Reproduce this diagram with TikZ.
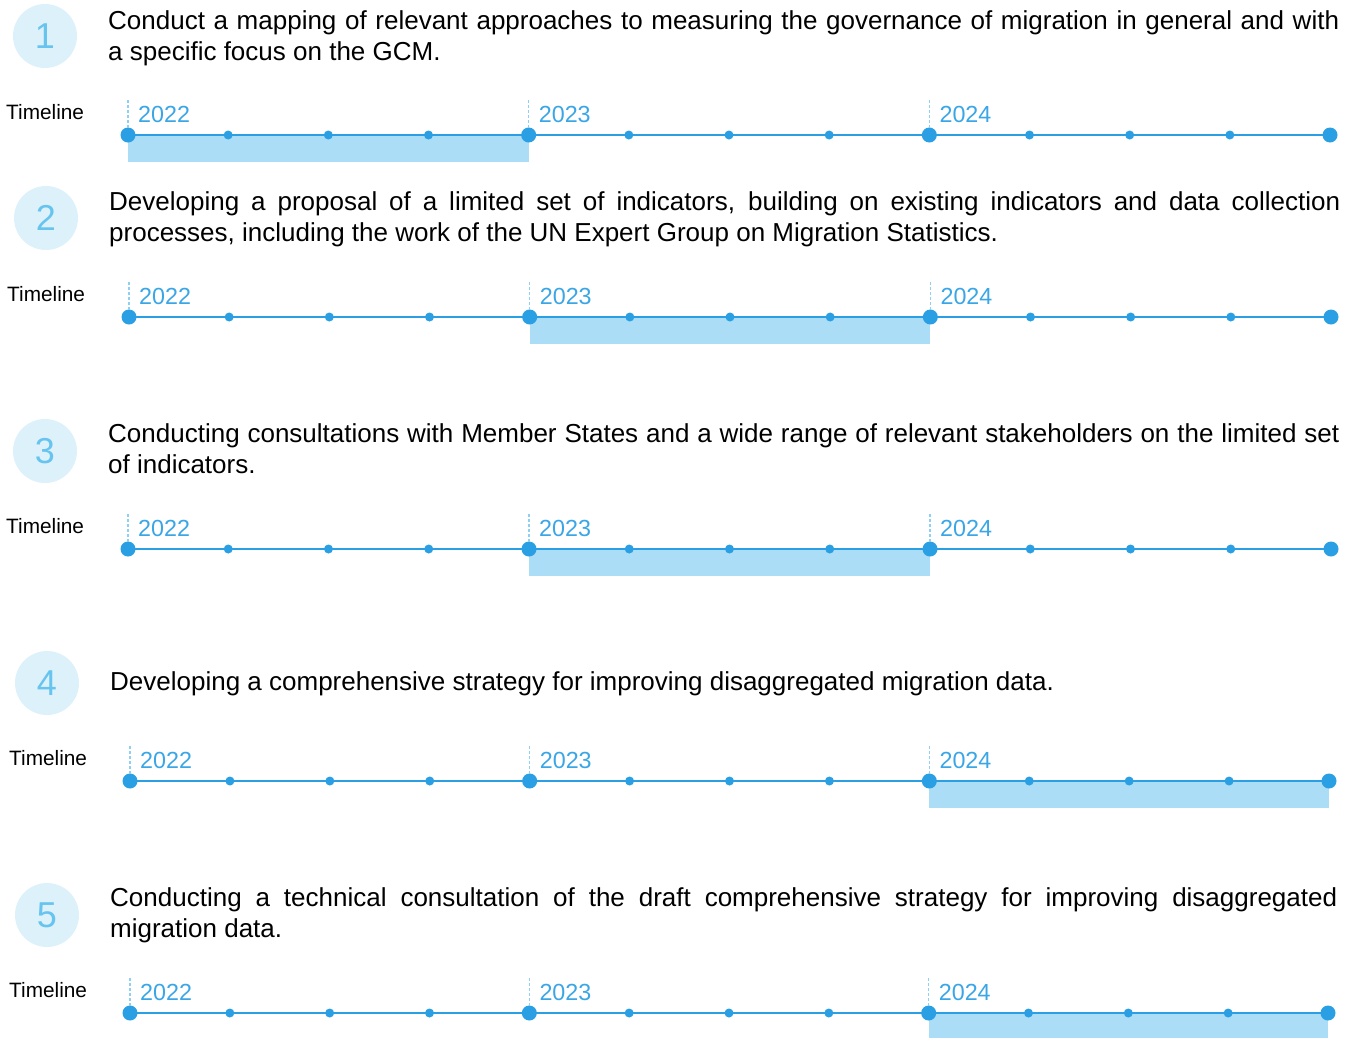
\documentclass[tikz,border=0pt]{standalone}
\usepackage{fontspec}
\setmainfont{Liberation Sans}
\definecolor{tlblue}{HTML}{2A9FE3}
\definecolor{barblue}{HTML}{ABDDF7}
\definecolor{circfill}{HTML}{DDF1FB}
\definecolor{numblue}{HTML}{66C4EE}
\definecolor{yearblue}{HTML}{3AA6E6}
\definecolor{tickblue}{HTML}{8FD0F2}
\tikzset{
 numcirc/.style={circle, fill=circfill, minimum size=64pt, inner sep=0pt, text=numblue, font=\fontsize{36}{36}\selectfont},
 itemtext/.style={anchor=base west, inner sep=0pt, text width=1231pt, align=justify, font=\fontsize{26}{31}\selectfont},
 tllabel/.style={anchor=base west, inner sep=0pt, font=\fontsize{20.8}{21}\selectfont},
 yearlabel/.style={anchor=base west, inner sep=0pt, text=yearblue, font=\fontsize{23.3}{23}\selectfont},
 bigdot/.style={circle, fill=tlblue, minimum size=15pt, inner sep=0pt},
 smalldot/.style={circle, fill=tlblue, minimum size=9pt, inner sep=0pt},
 tlline/.style={draw=tlblue, line width=2pt},
 yeartick/.style={draw=tickblue, line width=1.5pt, dash pattern=on 3pt off 2pt},
 barfill/.style={fill=barblue},
}
% #1 name, #2 x0, #3 x1, #4 y, #5 bar start index, #6 bar end index
\newcommand\mytimeline[6]{%
  \pgfmathsetmacro\mydx{(#3-#2)/12}
  \foreach \i in {0,...,12}{\coordinate (#1p\i) at ({#2+\i*\mydx},#4);}
  \fill[barfill] (#1p#5) rectangle ([yshift=-27pt]#1p#6);
  \draw[tlline] (#1p0) -- (#1p12);
  \foreach \i in {0,4,8,12}{\node[bigdot] (#1d\i) at (#1p\i) {};}
  \foreach \i in {1,2,3,5,6,7,9,10,11}{\node[smalldot] (#1d\i) at (#1p\i) {};}
  \foreach \i/\yr in {0/2022,4/2023,8/2024}{%
    \coordinate (#1t\i) at ([yshift=7pt]#1p\i);
    \coordinate (#1u\i) at ([yshift=35pt]#1p\i);
    \draw[yeartick] (#1t\i) -- (#1u\i);
    \node[yearlabel] (#1y\i) at ([xshift=10pt,yshift=13pt]#1p\i) {\yr};
  }
}
\begin{document}
\begin{tikzpicture}[x=1pt,y=-1pt]
\useasboundingbox (0,0) rectangle (1354,1037);
% Item 1
\node[numcirc] (c1) at (45,36) {1};
\node[itemtext] (t1) at (108,29) {Conduct a mapping of relevant approaches to measuring the governance of migration in general and with\linebreak a specific focus on the GCM.};
\node[tllabel] (l1) at (6,119) {Timeline};
\mytimeline{a}{128}{1330}{135}{0}{4}
% Item 2
\node[numcirc] (c2) at (46,218) {2};
\node[itemtext] (t2) at (109,210) {Developing a proposal of a limited set of indicators, building on existing indicators and data collection\linebreak processes, including the work of the UN Expert Group on Migration Statistics.};
\node[tllabel] (l2) at (7,301) {Timeline};
\mytimeline{b}{129}{1331}{317}{4}{8}
% Item 3
\node[numcirc] (c3) at (45,451) {3};
\node[itemtext] (t3) at (108,442) {Conducting consultations with Member States and a wide range of relevant stakeholders on the limited set\linebreak of indicators.};
\node[tllabel] (l3) at (6,533) {Timeline};
\mytimeline{c}{128}{1331}{549}{4}{8}
% Item 4
\node[numcirc] (c4) at (47,683) {4};
\node[itemtext] (t4) at (110,690) {Developing a comprehensive strategy for improving disaggregated migration data.};
\node[tllabel] (l4) at (9,765) {Timeline};
\mytimeline{d}{130}{1329}{781}{8}{12}
% Item 5
\node[numcirc] (c5) at (47,915) {5};
\node[itemtext, text width=1227pt] (t5) at (110,906) {Conducting a technical consultation of the draft comprehensive strategy for improving disaggregated\linebreak migration data.};
\node[tllabel] (l5) at (9,997) {Timeline};
\mytimeline{e}{130}{1328}{1013}{8}{12}
\end{tikzpicture}
\end{document}
